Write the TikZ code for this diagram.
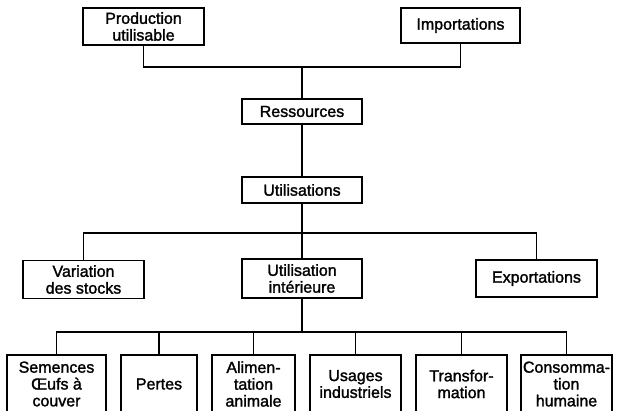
\documentclass[tikz,border=0pt]{standalone}
\usepackage{fontspec}
\newfontfamily\boxfont{Liberation Sans}[FakeBold=1.6]
\begin{document}
\begin{tikzpicture}[x=1pt,y=-1pt,
  box/.style={draw, line width=1.4pt, rectangle, inner xsep=1pt, inner ysep=0pt,
    align=center, font=\boxfont\fontsize{16}{16.8}\selectfont},
  link/.style={line width=1.4pt, line join=miter, line cap=rect}]
\useasboundingbox (0,0) rectangle (620,410);
% top row
\node[box, minimum width=121pt, minimum height=37pt] (prod) at (143.5,26.5) {Production\\utilisable};
\node[box, minimum width=119pt, minimum height=35pt] (imp) at (460.5,25.5) {Importations};
\node[box, minimum width=120pt, minimum height=25pt] (res) at (302,111.5) {Ressources};
\node[box, minimum width=120pt, minimum height=26pt] (util) at (302,190) {Utilisations};
% middle row
\node[box, minimum width=121pt, minimum height=38pt] (var) at (83.5,279.5) {Variation\\des stocks};
\node[box, minimum width=120pt, minimum height=39pt] (ui) at (302,278.5) {Utilisation\\intérieure};
\node[box, minimum width=121pt, minimum height=37pt] (exp) at (536.5,278.5) {Exportations};
% bottom row
\node[box, minimum width=99pt, minimum height=58pt] (sem) at (56.5,384) {Semences\\Œufs à\\couver};
\node[box, minimum width=76pt, minimum height=58pt] (per) at (159,384) {Pertes};
\node[box, minimum width=83pt, minimum height=58pt] (ali) at (253.5,384) {Alimen-\\tation\\animale};
\node[box, minimum width=91pt, minimum height=58pt] (usa) at (355.5,384) {Usages\\industriels};
\node[box, minimum width=91pt, minimum height=58pt] (tra) at (461.5,384) {Transfor-\\mation};
\node[box, minimum width=91pt, minimum height=58pt] (con) at (566.5,384) {Consomma-\\tion\\humaine};
% junctions
\coordinate (j1) at (302,67);
\coordinate (j2) at (302,233);
\coordinate (j3) at (302,332);
% connectors
\draw[link] (prod.south) |- (j1) -| (imp.south);
\draw[link] (j1) -- (res.north);
\draw[link] (res.south) -- (util.north);
\draw[link] (util.south) -- (ui.north);
\draw[link] (var.north) |- (j2) -| (exp.north);
\draw[link] (ui.south) -- (j3);
\draw[link] (sem.north) |- (j3) -| (con.north);
\draw[link] (per.north) -- (per.north |- j3);
\draw[link] (ali.north) -- (ali.north |- j3);
\draw[link] (usa.north) -- (usa.north |- j3);
\draw[link] (tra.north) -- (tra.north |- j3);
\end{tikzpicture}
\end{document}
